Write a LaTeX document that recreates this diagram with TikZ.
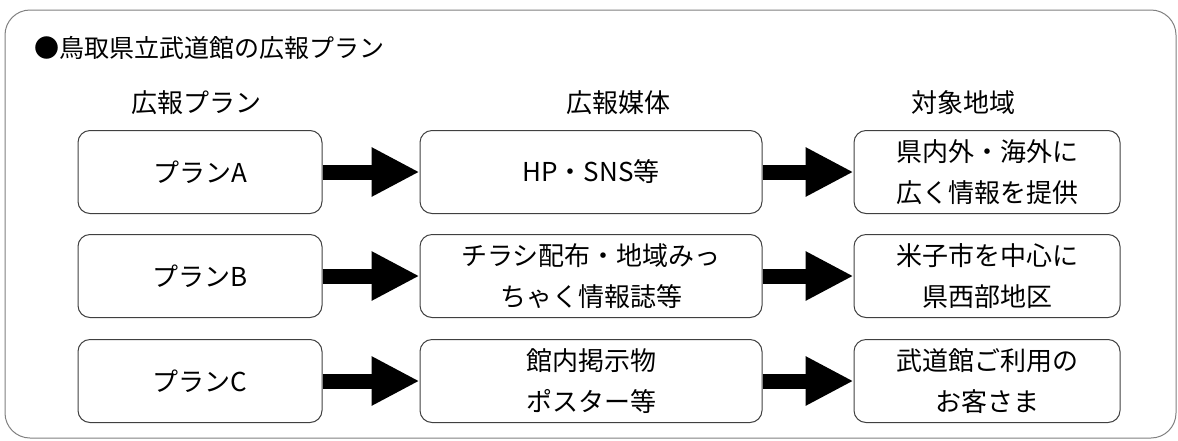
\documentclass[tikz,border=0pt]{standalone}
\usepackage{fontspec}
\setmainfont{Noto Sans CJK JP}
\usetikzlibrary{arrows.meta}
\tikzset{
  box/.style={draw=black!75, line width=1pt, rounded corners=12pt, minimum height=83pt, align=center, font=\fontsize{26}{41}\selectfont, inner sep=0pt},
  lbox/.style={box, minimum width=244pt},
  mbox/.style={box, minimum width=342pt},
  rbox/.style={box, minimum width=266pt},
  hdr/.style={font=\fontsize{26}{30}\selectfont, inner sep=0pt},
  ttl/.style={font=\fontsize{25}{30}\selectfont, inner sep=0pt},
  bigarrow/.style={line width=15pt, line cap=butt, -{Triangle[length=48pt, width=46pt]}},
  frame/.style={draw=black!50, line width=1pt, rounded corners=25pt}
}
\begin{document}
\begin{tikzpicture}[x=1pt, y=-1pt]
\useasboundingbox (0,0) rectangle (1178,440);
\draw[frame] (5,10) rectangle (1176,438);
\node[ttl, anchor=west] (title) at (34,48) {●鳥取県立武道館の広報プラン};
\node[hdr] (h1) at (196,103) {広報プラン};
\node[hdr] (h2) at (618,103) {広報媒体};
\node[hdr] (h3) at (963,103) {対象地域};
\node[lbox] (a1) at (200,172) {プランA};
\node[mbox] (b1) at (591,172) {HP・SNS等};
\node[rbox] (c1) at (987,172) {県内外・海外に\\広く情報を提供};
\node[lbox] (a2) at (200,276) {プランB};
\node[mbox] (b2) at (591,276) {チラシ配布・地域みっ\\ちゃく情報誌等};
\node[rbox] (c2) at (987,276) {米子市を中心に\\県西部地区};
\node[lbox] (a3) at (200,381) {プランC};
\node[mbox] (b3) at (591,381) {館内掲示物\\ポスター等};
\node[rbox] (c3) at (987,381) {武道館ご利用の\\お客さま};
\foreach \r in {1,2,3}{
  \draw[bigarrow] (a\r.east) -- (b\r.west);
  \draw[bigarrow] (b\r.east) -- (c\r.west);
}
\end{tikzpicture}
\end{document}
